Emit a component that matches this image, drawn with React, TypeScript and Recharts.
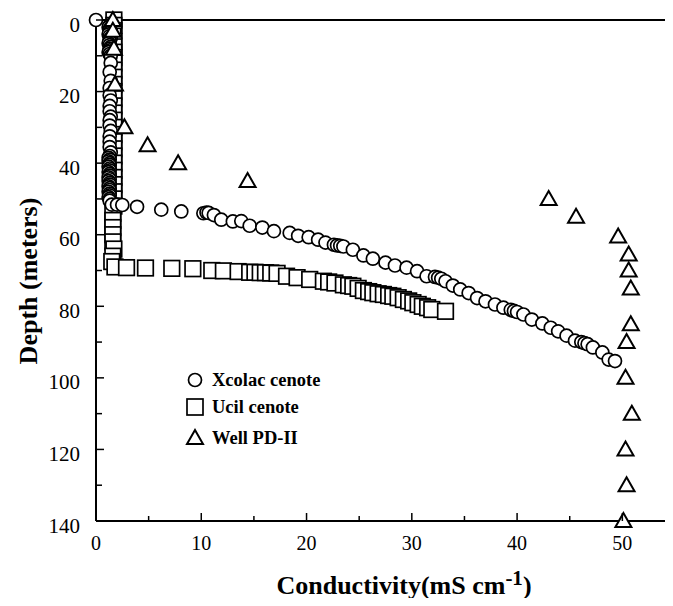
import React from "react";
import { ScatterChart, Scatter, XAxis, YAxis, Legend, Label } from "recharts";

const xcolacCond = [
  0,
  1.3, 1.2, 1.3, 1.4, 1.3, 1.2, 1.3, 1.4, 1.3, 1.3, 1.2, 1.3, 1.4, 1.3, 1.3, 1.2, 1.3, 1.4,
  1.4, 1.3, 1.4, 1.3, 1.3, 1.4, 1.3, 1.3, 1.4, 1.3, 1.3, 1.4, 1.3, 1.3, 1.3, 1.4,
  1.3, 1.2, 1.3, 1.2, 1.3, 1.3, 1.2, 1.3, 1.3, 1.2, 1.3, 1.3, 1.2, 1.3, 1.2, 1.3, 1.3, 1.2, 1.3, 1.3, 1.2, 1.3, 1.3, 1.2, 1.3, 1.3,
  1.5, 2.0, 2.5, 3.9, 6.2, 8.1, 10.2, 10.5, 10.7, 11.2, 11.9, 13.0, 13.8, 14.6, 15.8, 16.9, 18.4, 19.2,
  20.2, 21.1, 21.8, 22.6, 22.9, 23.2, 23.5, 24.4, 25.4, 26.3, 27.5, 28.4, 29.5, 30.5, 31.4, 32.2, 32.5,
  32.8, 33.2, 33.9, 34.6, 35.4, 36.2, 37.0, 37.9, 38.7, 39.4, 39.7, 40.0, 40.6, 41.4, 42.4, 43.2, 43.9,
  44.7, 45.5, 46.1, 46.4, 46.7, 47.2, 48.1, 48.7, 49.3,
];
const xcolacDepth = [
  0,
  1.5, 2, 2.5, 3, 3.5, 4, 4.5, 5, 5.5, 6, 6.5, 7, 7.5, 8, 8.5, 9, 9.5, 10,
  12, 14.5, 17, 19, 21, 22.5, 24, 25.5, 27, 28, 29.5, 31, 32.5, 34, 35.5, 37,
  38, 38.5, 39, 39.5, 40, 40.5, 41, 41.5, 42, 42.5, 43, 43.5, 44, 44.5, 45, 45.5, 46, 46.5, 47, 47.5, 48, 48.5, 49, 49.5, 50, 50.5,
  51.6, 51.6, 51.7, 52.2, 53, 53.5, 54, 53.8, 53.9, 54.5, 55.8, 56.3, 56.2, 57.5, 58, 59, 59.5, 60.3,
  60.7, 61.4, 62.2, 62.8, 63, 63.1, 63.3, 64.2, 65.8, 66.7, 67.8, 68.6, 69.2, 70.2, 71.6, 71.8, 72,
  72.3, 73, 74.2, 75.3, 76.3, 77.7, 78.6, 79.5, 80.4, 81, 81.3, 81.6, 82.3, 83.7, 84.8, 86, 87,
  88.2, 89.6, 90, 90.3, 90.6, 91.5, 92.9, 94.9, 95.3,
];

const ucilCond = [
  1.7, 1.7, 1.7, 1.6, 1.7, 1.7, 1.7, 1.7, 1.7, 1.7, 1.7, 1.7, 1.7, 1.7, 1.7, 1.7, 1.7, 1.7, 1.7, 1.7,
  1.7, 1.7, 1.7, 1.7, 1.7, 1.7, 1.7, 1.7, 1.7, 1.6, 1.6, 1.6, 1.6, 1.6, 1.7, 1.6, 1.5,
  1.8, 2.9, 4.7, 7.2, 9.2, 11.0, 12.1, 13.5, 14.6, 15.1, 15.6, 16.1, 16.6, 17.2, 18.1, 19.1, 20.3,
  21.6, 22.1, 22.7, 23.5, 24.0, 24.4, 24.9, 25.4, 25.9, 26.3, 26.8, 27.3, 27.8, 28.2, 28.7, 29.2,
  29.7, 30.1, 30.6, 31.0, 31.5, 31.9, 33.2,
];
const ucilDepth = [
  0, 1.5, 3, 4.5, 6, 7.5, 9, 10.5, 12, 14, 16, 18, 20, 22, 24, 26, 28, 30, 32, 34,
  36, 38, 40, 42, 44, 46, 48, 50, 52, 54, 56, 58, 60, 62, 64, 66, 67.5,
  69, 69.2, 69.3, 69.4, 69.5, 70, 70.1, 70.3, 70.5, 70.5, 70.6, 70.6, 70.7, 70.8, 71.6, 72, 72.5,
  73, 73.2, 73.5, 74, 74.2, 74.4, 75, 75.6, 75.9, 76.2, 76.5, 76.7, 77, 77.2, 77.6, 78.1,
  78.5, 79, 79.5, 80, 80.4, 80.9, 81.4,
];

const wellCond = [1.6, 1.6, 1.7, 1.8, 2.7, 4.9, 7.8, 14.4, 43.0, 45.6, 49.6, 50.6, 50.6, 50.8, 50.8, 50.4, 50.3, 50.9, 50.3, 50.4, 50.1];
const wellDepth = [0, 3, 8, 18, 30, 35, 40, 45, 50, 55, 60.5, 65.5, 70, 75, 85, 90, 100, 110, 120, 130, 140];

const xTicks = [0, 5, 10, 15, 20, 25, 30, 35, 40, 45, 50];
const yTicks = [0, 10, 20, 30, 40, 50, 60, 70, 80, 90, 100, 110, 120, 130, 140];

const seriesNames = ["Xcolac cenote", "Ucil cenote", "Well PD-II"];

const toPoints = (xs: number[], ys: number[]) => xs.map((x, i) => ({ x, y: ys[i] }));
const xcolac = toPoints(xcolacCond, xcolacDepth);
const ucil = toPoints(ucilCond, ucilDepth);
const well = toPoints(wellCond, wellDepth);

const SERIF = "'Liberation Serif', 'Times New Roman', serif";

const CircleShape = (p: any) => (
  <circle cx={p.cx} cy={p.cy} r={6.5} fill="#fff" stroke="#000" strokeWidth={1.7} />
);
const SquareShape = (p: any) => (
  <rect x={p.cx - 7.8} y={p.cy - 7.8} width={15.6} height={15.6} fill="#fff" stroke="#000" strokeWidth={1.7} />
);
const TriShape = (p: any) => (
  <path
    d={`M${p.cx},${p.cy - 8} L${p.cx + 8},${p.cy + 6} L${p.cx - 8},${p.cy + 6} Z`}
    fill="#fff"
    stroke="#000"
    strokeWidth={2}
  />
);

const BottomTick = (p: any) => {
  const v = p.payload.value;
  const major = v % 10 === 0;
  return (
    <g>
      <line x1={p.x} x2={p.x} y1={p.y} y2={p.y - (major ? 8 : 5)} stroke="#000" strokeWidth={1.5} />
      {major && (
        <text x={p.x} y={p.y + 28.5} textAnchor="middle" fontSize={20} fontFamily={SERIF} fill="#000">
          {v}
        </text>
      )}
    </g>
  );
};
const TopTick = (p: any) => {
  const v = p.payload.value;
  const major = v % 10 === 0;
  return <line x1={p.x} x2={p.x} y1={p.y} y2={p.y + (major ? 9 : 5)} stroke="#000" strokeWidth={1.5} />;
};
const LeftTick = (p: any) => {
  const v = p.payload.value;
  const major = v % 20 === 0;
  return (
    <g>
      <line x1={p.x} x2={p.x + (major ? 8 : 6)} y1={p.y} y2={p.y} stroke="#000" strokeWidth={1.5} />
      {major && (
        <text x={p.x - 16} y={p.y + 11.5} textAnchor="end" fontSize={21} fontFamily={SERIF} fill="#000">
          {v}
        </text>
      )}
    </g>
  );
};
const RightTick = (p: any) => {
  const v = p.payload.value;
  const major = v % 20 === 0;
  return <line x1={p.x} x2={p.x - (major ? 11 : 8)} y1={p.y} y2={p.y} stroke="#000" strokeWidth={1.5} />;
};

const LegendContent = () => {
  const rows = [
    { name: seriesNames[0], top: 0, icon: <circle cx={10} cy={10} r={6.5} fill="#fff" stroke="#000" strokeWidth={1.7} /> },
    { name: seriesNames[1], top: 27, icon: <rect x={2} y={2} width={16} height={16} fill="#fff" stroke="#000" strokeWidth={1.7} /> },
    { name: seriesNames[2], top: 58, icon: <path d="M10,2 L18,16 L2,16 Z" fill="#fff" stroke="#000" strokeWidth={2} /> },
  ];
  return (
    <div style={{ position: "relative", width: 180, height: 80 }}>
      {rows.map((r) => (
        <div key={r.name} style={{ position: "absolute", left: 0, top: r.top, height: 20, display: "flex", alignItems: "center" }}>
          <svg width={20} height={20} style={{ display: "block" }}>{r.icon}</svg>
          <span
            style={{
              marginLeft: 7,
              fontFamily: SERIF,
              fontWeight: "bold",
              fontSize: 18.5,
              lineHeight: "20px",
              whiteSpace: "nowrap",
              color: "#000",
            }}
          >
            {r.name}
          </span>
        </div>
      ))}
    </div>
  );
};

const XTitle = () => (
  <text x={404} y={594} textAnchor="middle" fontSize={26} fontWeight="bold" fontFamily={SERIF} fill="#000">
    Conductivity(mS cm
    <tspan dy={-9} fontSize={21}>-1</tspan>
    <tspan dy={9}>)</tspan>
  </text>
);
const YTitle = () => (
  <text
    x={0}
    y={0}
    transform="translate(37,281) rotate(-90)"
    textAnchor="middle"
    fontSize={26}
    fontWeight="bold"
    fontFamily={SERIF}
    fill="#000"
  >
    Depth (meters)
  </text>
);

export default function App() {
  return (
    <div style={{ position: "relative", margin: -8, width: 673, height: 606, overflow: "hidden", background: "#fff" }}>
      <ScatterChart width={676} height={606} margin={{ top: 19, left: 16, right: 0, bottom: 24 }}>
        <XAxis
          xAxisId={0}
          type="number"
          dataKey="x"
          domain={[0, 55]}
          ticks={xTicks}
          interval={0}
          orientation="bottom"
          height={61}
          tickSize={0}
          tickMargin={0}
          tickLine={false}
          axisLine={{ stroke: "#000", strokeWidth: 2 }}
          tick={BottomTick}
        >
          <Label content={XTitle} />
        </XAxis>
        <XAxis
          xAxisId="top"
          type="number"
          domain={[0, 55]}
          ticks={xTicks}
          interval={0}
          orientation="top"
          height={1}
          tickSize={0}
          tickMargin={0}
          tickLine={false}
          axisLine={{ stroke: "#000", strokeWidth: 2 }}
          tick={TopTick}
        />
        <YAxis
          yAxisId={0}
          type="number"
          dataKey="y"
          domain={[0, 140]}
          reversed
          ticks={yTicks}
          interval={0}
          orientation="left"
          width={80}
          tickSize={0}
          tickMargin={0}
          tickLine={false}
          axisLine={{ stroke: "#000", strokeWidth: 2 }}
          tick={LeftTick}
        >
          <Label content={YTitle} />
        </YAxis>
        <YAxis
          yAxisId="right"
          type="number"
          domain={[0, 140]}
          reversed
          ticks={yTicks}
          interval={0}
          orientation="right"
          width={1}
          tickSize={0}
          tickMargin={0}
          tickLine={false}
          axisLine={false}
          tick={RightTick}
        />
        <Legend
          layout="vertical"
          align="center"
          verticalAlign="middle"
          content={LegendContent}
          wrapperStyle={{ left: 185, top: 370, width: 180, height: 80 }}
        />
        <Scatter name={seriesNames[1]} data={ucil} shape={SquareShape} isAnimationActive={false} />
        <Scatter name={seriesNames[0]} data={xcolac} shape={CircleShape} isAnimationActive={false} />
        <Scatter name={seriesNames[2]} data={well} shape={TriShape} isAnimationActive={false} />
      </ScatterChart>
    </div>
  );
}
